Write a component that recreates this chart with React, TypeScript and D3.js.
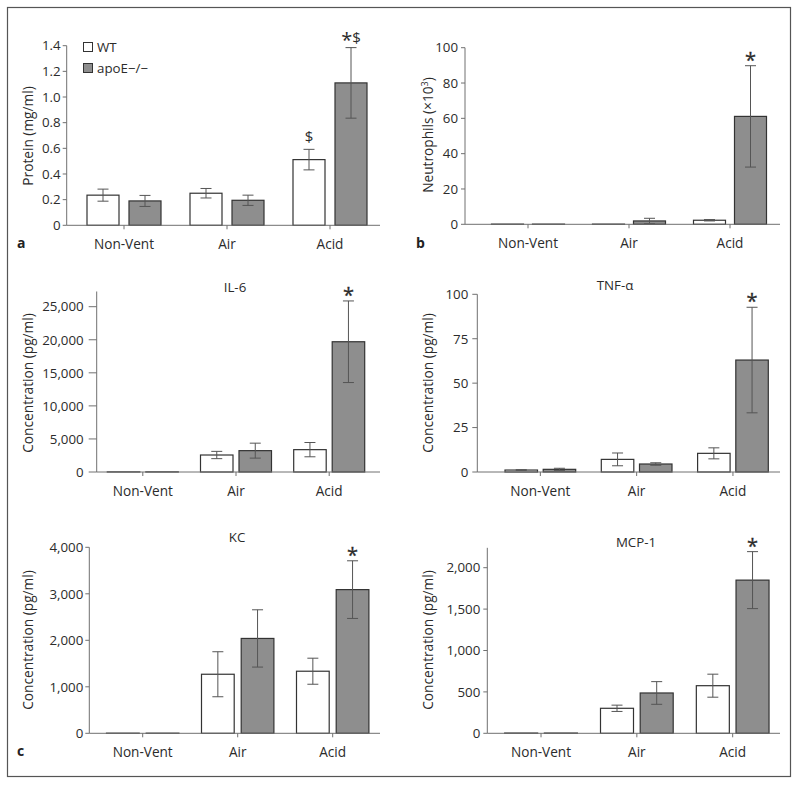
import React from "react";
import * as d3 from "d3";

const groups = ["Non-Vent", "Air", "Acid"];
const series = ["WT", "apoE−/−"];

// Panel a: Protein (mg/ml)
const proteinWT = [0.235, 0.25, 0.512];
const proteinWTErr = [0.047, 0.037, 0.08];
const proteinKO = [0.19, 0.195, 1.11];
const proteinKOErr = [0.043, 0.04, 0.275];
const proteinTicks = [0, 0.2, 0.4, 0.6, 0.8, 1.0, 1.2, 1.4];

// Panel b: Neutrophils (x10^3)
const neutroWT = [0.1, 0.1, 2.3];
const neutroWTErr = [0, 0, 0.4];
const neutroKO = [0.1, 1.9, 61.1];
const neutroKOErr = [0, 1.5, 28.7];
const neutroTicks = [0, 20, 40, 60, 80, 100];

// IL-6
const il6WT = [20, 2570, 3380];
const il6WTErr = [0, 550, 1080];
const il6KO = [20, 3230, 19700];
const il6KOErr = [0, 1130, 6170];
const il6Ticks = [0, 5000, 10000, 15000, 20000, 25000];

// TNF-a
const tnfWT = [1.1, 7.1, 10.5];
const tnfWTErr = [0.2, 3.6, 3.1];
const tnfKO = [1.5, 4.5, 63];
const tnfKOErr = [0.6, 0.7, 29.7];
const tnfTicks = [0, 25, 50, 75, 100];

// KC
const kcWT = [3, 1270, 1335];
const kcWTErr = [0, 484, 280];
const kcKO = [3, 2040, 3090];
const kcKOErr = [0, 616, 620];
const kcTicks = [0, 1000, 2000, 3000, 4000];

// MCP-1
const mcpWT = [3, 302, 575];
const mcpWTErr = [0, 38, 139];
const mcpKO = [3, 487, 1850];
const mcpKOErr = [0, 137, 344];
const mcpTicks = [0, 500, 1000, 1500, 2000];

const FONT = "'Open Sans', 'Noto Sans', sans-serif";
const TEXT = "#2b2b2b";
const AXIS = "#707070";
const BAR_STROKE = "#333";
const KO_FILL = "#8e8e8e";
const ERR = "#555";

type Ann = { g: number; s: number; kind: "star" | "dollar" | "both" };

type PanelProps = {
  wt: number[]; wtErr: number[]; ko: number[]; koErr: number[];
  ticks: number[]; fmt: (v: number) => string; axisTopVal?: number;
  axisX: number; baseY: number; topY: number; xRange: [number, number];
  lineEnd: number; barW: number; gap: number; tickLen: number; labelGap: number;
  yLabel: React.ReactNode; yLabelX: number; yLabelY: number;
  title?: string; titleX?: number; titleY?: number;
  letter?: string; letterX?: number; letterY?: number;
  anns: Ann[];
};

function Panel(p: PanelProps) {
  const tmax = p.ticks[p.ticks.length - 1];
  const y = d3.scaleLinear().domain([0, tmax]).range([p.baseY, p.topY]);
  const x0 = d3.scaleBand<string>().domain(groups).range(p.xRange).paddingInner(0).paddingOuter(0);
  const bw = x0.bandwidth();
  const x1 = d3
    .scaleBand<string>()
    .domain(series)
    .range([bw / 2 - p.barW - p.gap / 2, bw / 2 + p.barW + p.gap / 2])
    .paddingInner(p.gap / (p.barW + p.gap))
    .paddingOuter(0);
  const vals = [p.wt, p.ko];
  const errs = [p.wtErr, p.koErr];
  const axisTop = y(p.axisTopVal ?? tmax);
  const capW = 11;
  return (
    <g>
      {/* y axis */}
      <line x1={p.axisX} x2={p.axisX} y1={axisTop} y2={p.baseY} stroke={AXIS} strokeWidth={1} />
      {p.ticks.map((t) => (
        <g key={t}>
          <line x1={p.axisX - p.tickLen} x2={p.axisX} y1={y(t)} y2={y(t)} stroke={AXIS} />
          <text x={p.axisX - p.labelGap} y={y(t)} dy="0.36em" textAnchor="end" fontSize={13.3} fill={TEXT} fontFamily={FONT}>
            {p.fmt(t)}
          </text>
        </g>
      ))}
      {/* bars */}
      {groups.map((g, gi) =>
        series.map((s, si) => {
          const v = vals[si][gi];
          const e = errs[si][gi];
          const bx = (x0(g) as number) + (x1(s) as number);
          const cx = bx + x1.bandwidth() / 2;
          return (
            <g key={g + s}>
              <rect
                x={bx}
                y={y(v)}
                width={x1.bandwidth()}
                height={Math.max(0, p.baseY - y(v))}
                fill={si === 0 ? "#fff" : KO_FILL}
                stroke={BAR_STROKE}
                strokeWidth={1.2}
              />
              {e > 0 && (
                <g stroke={ERR} strokeWidth={1}>
                  <line x1={cx} x2={cx} y1={y(v + e)} y2={y(Math.max(0, v - e))} />
                  <line x1={cx - capW / 2} x2={cx + capW / 2} y1={y(v + e)} y2={y(v + e)} />
                  <line x1={cx - capW / 2} x2={cx + capW / 2} y1={y(Math.max(0, v - e))} y2={y(Math.max(0, v - e))} />
                </g>
              )}
            </g>
          );
        })
      )}
      {/* x axis */}
      <line x1={p.axisX} x2={p.lineEnd} y1={p.baseY} y2={p.baseY} stroke={AXIS} strokeWidth={1} />
      {groups.map((g) => {
        const c = (x0(g) as number) + bw / 2;
        return (
          <g key={g}>
            <line x1={c} x2={c} y1={p.baseY} y2={p.baseY + 4} stroke={AXIS} />
            <text x={c} y={p.baseY + 24} textAnchor="middle" fontSize={13.6} fill={TEXT} fontFamily={FONT}>
              {g}
            </text>
          </g>
        );
      })}
      {/* annotations */}
      {p.anns.map((a, i) => {
        const g = groups[a.g];
        const s = series[a.s];
        const cx = (x0(g) as number) + (x1(s) as number) + x1.bandwidth() / 2;
        const top = y(vals[a.s][a.g] + errs[a.s][a.g]);
        if (a.kind === "dollar") {
          return (
            <text key={i} x={cx} y={top - 7} textAnchor="middle" fontSize={15} fill={TEXT} fontFamily={FONT}>
              $
            </text>
          );
        }
        if (a.kind === "both") {
          return (
            <text key={i} x={cx} y={top - 5} textAnchor="middle" fill={TEXT} fontFamily={FONT}>
              <tspan fontSize={20} dy="4">*</tspan>
              <tspan fontSize={15} dy="-4">$</tspan>
            </text>
          );
        }
        return (
          <text key={i} x={cx} y={top + 1} textAnchor="middle" fontSize={20} fill={TEXT} stroke={TEXT} strokeWidth={0.3} fontFamily={FONT}>
            *
          </text>
        );
      })}
      {/* y label */}
      <text
        transform={`translate(${p.yLabelX},${p.yLabelY}) rotate(-90)`}
        dy="0.35em"
        textAnchor="middle"
        fontSize={13.7}
        fill={TEXT}
        fontFamily={FONT}
      >
        {p.yLabel}
      </text>
      {p.title && (
        <text x={p.titleX} y={p.titleY} textAnchor="middle" fontSize={13.3} fill={TEXT} fontFamily={FONT}>
          {p.title}
        </text>
      )}
      {p.letter && (
        <text x={p.letterX} y={p.letterY} fontSize={14} fontWeight="bold" fill="#222" fontFamily={FONT}>
          {p.letter}
        </text>
      )}
    </g>
  );
}

const fmtDec = (v: number) => (v === 0 ? "0" : d3.format(".1f")(v));
const fmtInt = (v: number) => d3.format(",")(v);

export default function App() {
  return (
    <svg width={800} height={787} style={{ position: "absolute", left: 0, top: 0, background: "#fff" }}>
      <rect x={0} y={0} width={800} height={787} fill="#fff" />
      <rect x={7.5} y={7.5} width={783} height={769} fill="none" stroke="#555" strokeWidth={1.2} />

      <Panel
        wt={proteinWT} wtErr={proteinWTErr} ko={proteinKO} koErr={proteinKOErr}
        ticks={proteinTicks} fmt={fmtDec}
        axisX={66.7} baseY={225.3} topY={45.7} xRange={[72.5, 381.5]} lineEnd={380}
        barW={32} gap={10} tickLen={4} labelGap={6}
        yLabel="Protein (mg/ml)" yLabelX={28} yLabelY={136}
        letter="a" letterX={17} letterY={248}
        anns={[{ g: 2, s: 0, kind: "dollar" }, { g: 2, s: 1, kind: "both" }]}
      />
      {/* legend */}
      <g fontFamily={FONT} fontSize={13.3} fill={TEXT}>
        <rect x={83.5} y={42.5} width={9} height={9} fill="#fff" stroke={BAR_STROKE} />
        <text x={97} y={51.5}>{series[0]}</text>
        <rect x={83.5} y={63.5} width={9} height={9} fill={KO_FILL} stroke={BAR_STROKE} />
        <text x={97} y={72.5}>{series[1]}</text>
      </g>

      <Panel
        wt={neutroWT} wtErr={neutroWTErr} ko={neutroKO} koErr={neutroKOErr}
        ticks={neutroTicks} fmt={fmtInt}
        axisX={465} baseY={224.3} topY={47.7} xRange={[477.5, 780.5]} lineEnd={780}
        barW={32} gap={9} tickLen={4} labelGap={7}
        yLabel={<>Neutrophils (×10<tspan fontSize={9} dy="-5">3</tspan><tspan dy="5">)</tspan></>}
        yLabelX={428} yLabelY={135}
        letter="b" letterX={416} letterY={248}
        anns={[{ g: 2, s: 1, kind: "star" }]}
      />

      <Panel
        wt={il6WT} wtErr={il6WTErr} ko={il6KO} koErr={il6KOErr}
        ticks={il6Ticks} fmt={fmtInt} axisTopVal={27300}
        axisX={96.7} baseY={472} topY={306.7} xRange={[96.2, 375.8]} lineEnd={380}
        barW={32.5} gap={6} tickLen={8} labelGap={13}
        yLabel="Concentration (pg/ml)" yLabelX={28} yLabelY={383}
        title="IL-6" titleX={235} titleY={291.5}
        anns={[{ g: 2, s: 1, kind: "star" }]}
      />

      <Panel
        wt={tnfWT} wtErr={tnfWTErr} ko={tnfKO} koErr={tnfKOErr}
        ticks={tnfTicks} fmt={fmtInt}
        axisX={477.3} baseY={472} topY={294.3} xRange={[492.2, 781.1]} lineEnd={780}
        barW={32.5} gap={5.7} tickLen={5} labelGap={9}
        yLabel="Concentration (pg/ml)" yLabelX={428} yLabelY={383}
        title="TNF-α" titleX={615} titleY={289.5}
        anns={[{ g: 2, s: 1, kind: "star" }]}
      />

      <Panel
        wt={kcWT} wtErr={kcWTErr} ko={kcKO} koErr={kcKOErr}
        ticks={kcTicks} fmt={fmtInt}
        axisX={89.3} baseY={733.3} topY={547.3} xRange={[95.2, 380.2]} lineEnd={380}
        barW={32.7} gap={7} tickLen={4} labelGap={6}
        yLabel="Concentration (pg/ml)" yLabelX={28} yLabelY={640}
        title="KC" titleX={237} titleY={542}
        letter="c" letterX={17} letterY={756}
        anns={[{ g: 2, s: 1, kind: "star" }]}
      />

      <Panel
        wt={mcpWT} wtErr={mcpWTErr} ko={mcpKO} koErr={mcpKOErr}
        ticks={mcpTicks} fmt={fmtInt} axisTopVal={2240}
        axisX={487.3} baseY={733.3} topY={567.7} xRange={[493.1, 780.6]} lineEnd={780}
        barW={33} gap={6.7} tickLen={4} labelGap={7}
        yLabel="Concentration (pg/ml)" yLabelX={428} yLabelY={640}
        title="MCP-1" titleX={636} titleY={547}
        anns={[{ g: 2, s: 1, kind: "star" }]}
      />
    </svg>
  );
}
